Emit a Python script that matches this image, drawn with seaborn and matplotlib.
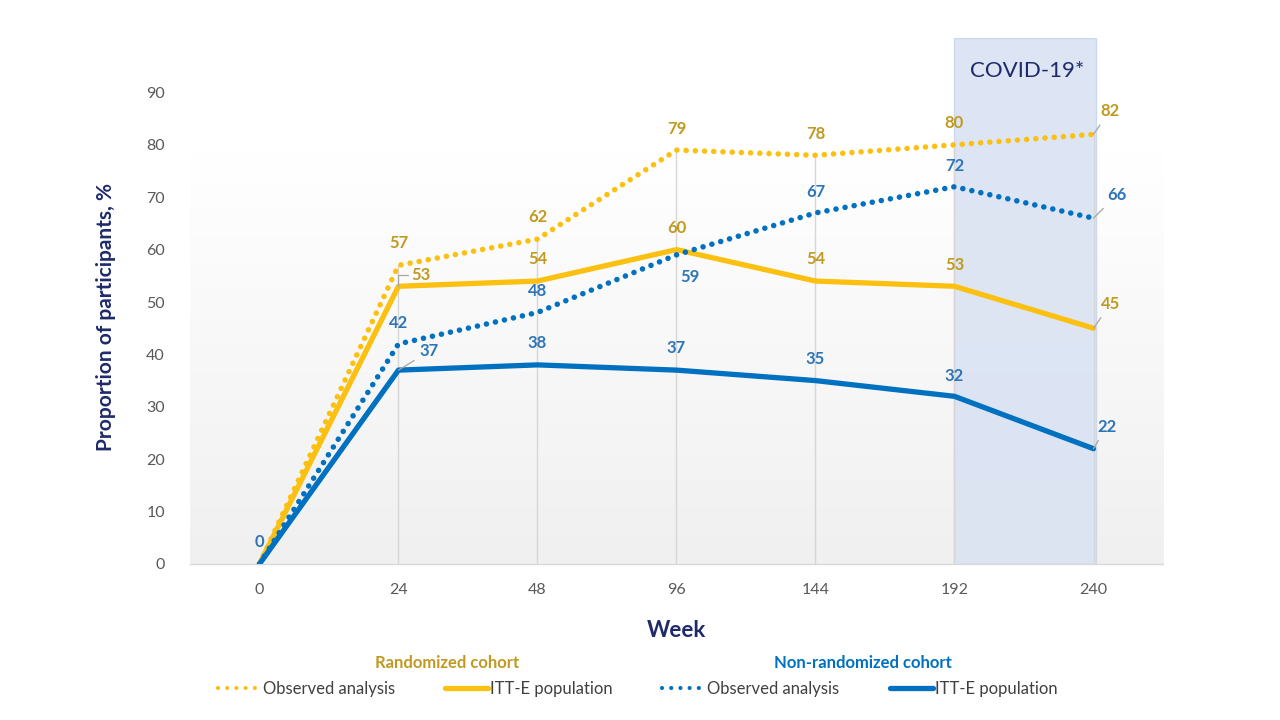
import numpy as np
import pandas as pd
import seaborn as sns
import matplotlib as mpl
from matplotlib import pyplot as plt
from matplotlib.lines import Line2D

# values
weeks = ["0", "24", "48", "96", "144", "192", "240"]
rand_obs = [0, 57, 62, 79, 78, 80, 82]
rand_itt = [0, 53, 54, 60, 54, 53, 45]
nonrand_obs = [0, 42, 48, 59, 67, 72, 66]
nonrand_itt = [0, 37, 38, 37, 35, 32, 22]
y_ticks = [0, 10, 20, 30, 40, 50, 60, 70, 80, 90]

GOLD = "#FBC010"
GOLD_TXT = "#C09A20"
BLUE = "#0070C0"
BLUE_TXT = "#2E75B6"
NAVY = "#1F2A6B"
DOTS = (0, (0.01, 1.65))

sns.set_theme(style="white")
plt.rcParams["font.family"] = ["Lato", "DejaVu Sans"]

fig = plt.figure(figsize=(12.8, 7.2), dpi=100)
ax = fig.add_axes([0.1484, 0.2167, 0.7602, 0.7306])

# soft grey gradient behind the plot area (white at top, grey at bottom)
grad = np.linspace(0, 1, 256).reshape(-1, 1)
grad = np.clip(grad / 0.78, 0, 1)
ax.imshow(grad, extent=(-0.5, 6.5, 0, 100.4), aspect="auto", origin="lower",
          cmap=mpl.colors.LinearSegmentedColormap.from_list("g", ["#F0F0F0", "#FFFFFF"]),
          zorder=0)

# COVID-19 shaded period
ax.axvspan(5, 6.02, facecolor="#DAE3F3", edgecolor="#C9D6EC", alpha=0.9, zorder=0.5, lw=1)
ax.text(5.52, 94, "COVID-19*", ha="center", va="center", fontsize=16, color=NAVY)

# vertical drop lines up to the highest value at each week
tops = np.max([rand_obs, rand_itt, nonrand_obs, nonrand_itt], axis=0)
xs = np.arange(len(weeks))
ax.vlines(xs[1:], 0, tops[1:], color="#D6D6D6", lw=1, zorder=1)

series = [
    (rand_obs, GOLD, DOTS, 4.0),
    (rand_itt, GOLD, "-", 3.8),
    (nonrand_obs, BLUE, DOTS, 4.0),
    (nonrand_itt, BLUE, "-", 3.8),
]
for vals, col, ls, lw in series:
    sns.lineplot(x=weeks, y=vals, ax=ax, color=col, linestyle=ls, lw=lw,
                 sort=False, dash_capstyle="round", zorder=3)

# data labels (offsets in pixels, leader flag)
labels = [
    (rand_obs, GOLD_TXT, [None, (0, 22, 0), (0, 22, 0), (0, 21, 0), (0, 21, 0), (0, 22, 0), (16, 23, 1)]),
    (rand_itt, GOLD_TXT, [None, (22, 11, 2), (0, 22, 0), (0, 22, 0), (0, 22, 0), (0, 21, 0), (17, 24, 1)]),
    (nonrand_obs, BLUE_TXT, [None, (0, 21, 0), (0, 21, 0), (14, -22, 0), (0, 21, 0), (0, 21, 0), (23, 23, 1)]),
    (nonrand_itt, BLUE_TXT, [(0, 22, 0), (31, 19, 1), (0, 22, 0), (0, 22, 0), (0, 22, 0), (0, 20, 0), (13, 22, 1)]),
]
for vals, col, offs in labels:
    for i, (v, off) in enumerate(zip(vals, offs)):
        if off is None:
            continue
        dx, dy, lead = off
        kw = {}
        if lead == 1:
            kw["arrowprops"] = dict(arrowstyle="-", color="#A6A6A6", lw=0.9,
                                    shrinkA=2, shrinkB=0)
        elif lead == 2:
            kw["arrowprops"] = dict(arrowstyle="-", color="#A6A6A6", lw=0.9,
                                    shrinkA=0, shrinkB=0,
                                    connectionstyle="angle,angleA=0,angleB=90,rad=0")
        ax.annotate(str(v), xy=(i, v), xytext=(dx, dy), textcoords="offset pixels",
                    ha="center", va="center", fontsize=12, fontweight="bold",
                    color=col, zorder=5, **kw)

ax.set_xlim(-0.5, 6.5)
ax.set_ylim(0, 100.4)
ax.set_yticks(y_ticks)
ax.tick_params(axis="both", labelsize=11.5, colors="#595959", length=0)
ax.tick_params(axis="x", pad=14)
ax.tick_params(axis="y", pad=18)
for s in ["top", "right", "left"]:
    ax.spines[s].set_visible(False)
ax.spines["bottom"].set_color("#D9D9D9")
ax.spines["bottom"].set_linewidth(1)

ax.set_xlabel("Week", fontsize=16, fontweight="bold", color=NAVY, labelpad=16)
ax.set_ylabel("Proportion of participants, %", fontsize=15, fontweight="bold",
              color=NAVY, labelpad=22)
ax.yaxis.set_label_coords(-0.076, 0.47)

# legend with cohort headers
fig.text(447 / 1280, 1 - 663 / 720, "Randomized cohort", ha="center", va="center",
         fontsize=12, fontweight="bold", color=GOLD_TXT)
fig.text(863 / 1280, 1 - 663 / 720, "Non-randomized cohort", ha="center", va="center",
         fontsize=12, fontweight="bold", color=BLUE)
handles = [
    Line2D([], [], color=GOLD, lw=3, linestyle=(0, (0.01, 2.2)), dash_capstyle="round"),
    Line2D([], [], color=GOLD, lw=3.8),
    Line2D([], [], color=BLUE, lw=3, linestyle=(0, (0.01, 2.2)), dash_capstyle="round"),
    Line2D([], [], color=BLUE, lw=3.8),
]
names = ["Observed analysis", "ITT-E population", "Observed analysis", "ITT-E population"]
fig.legend(handles, names, ncol=4, loc="center", bbox_to_anchor=(0.498, 1 - 689 / 720),
           frameon=False, fontsize=12, handlelength=2.6, handletextpad=0.1,
           columnspacing=3.0, labelcolor="#404040")

fig.savefig("out.png", dpi=100)
